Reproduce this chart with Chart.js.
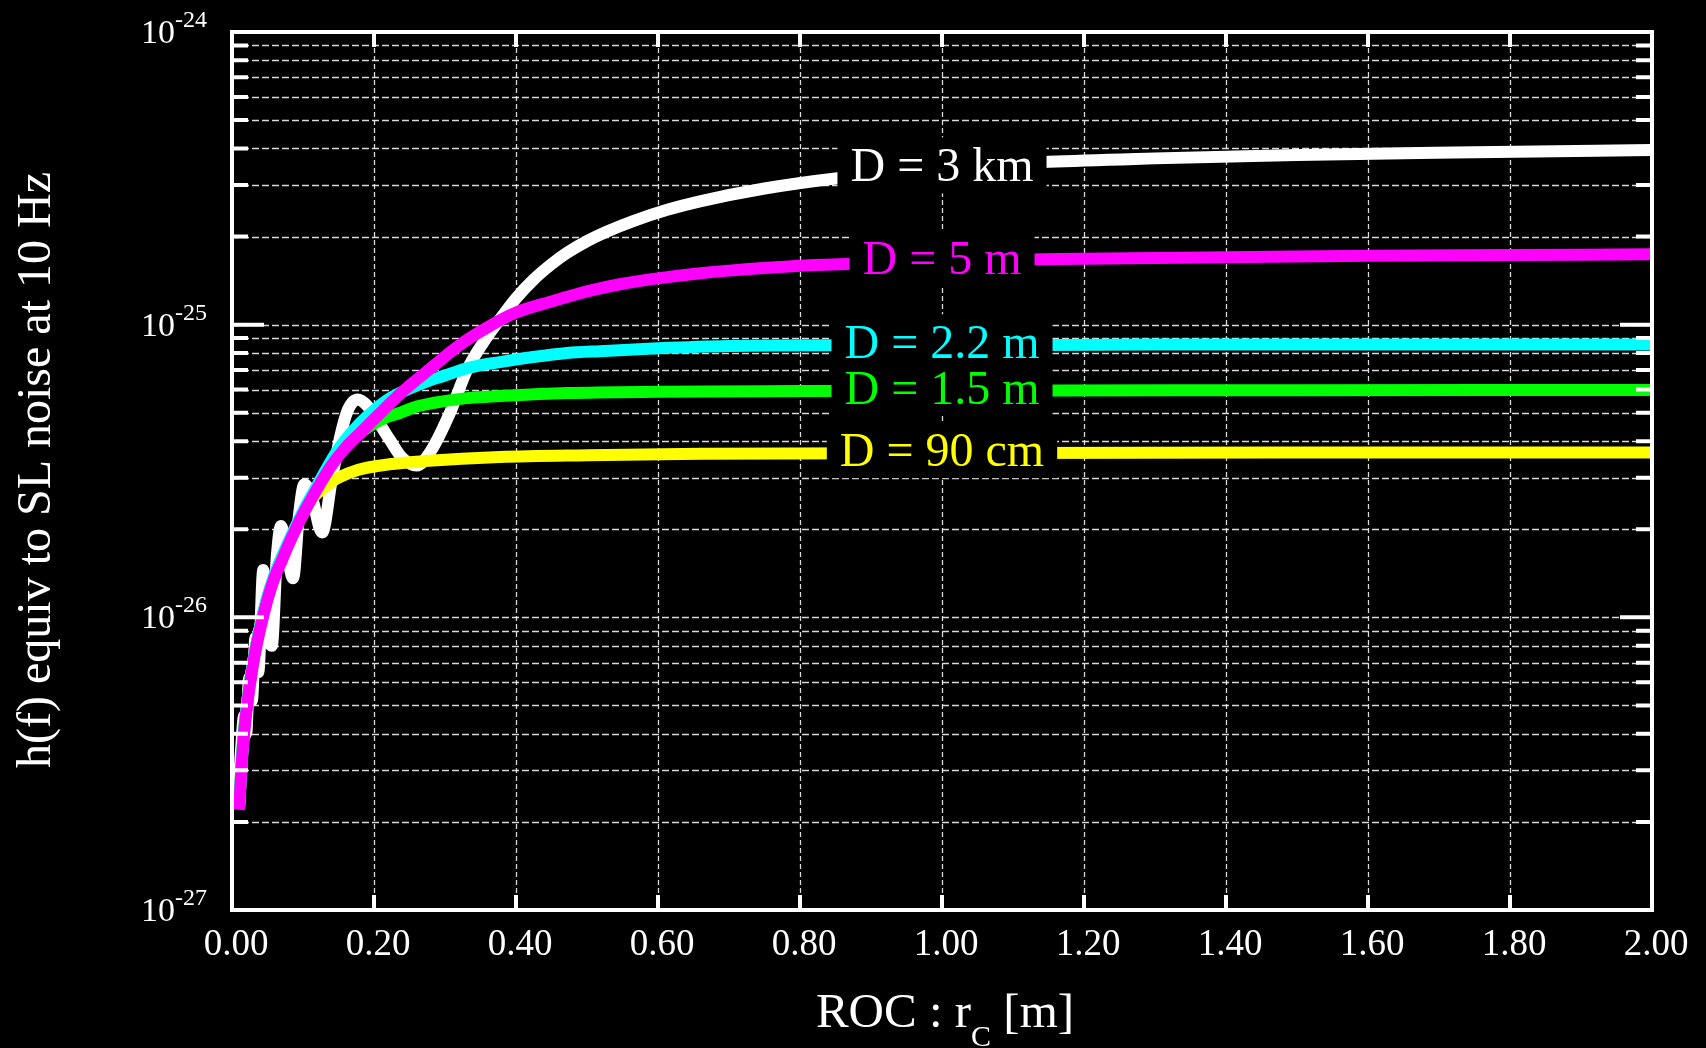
<!DOCTYPE html>
<html>
<head>
<meta charset="utf-8">
<script src="https://cdn.jsdelivr.net/npm/chart.js@4.4.1/dist/chart.umd.min.js"></script>
<style>
  html, body { margin: 0; padding: 0; background: #000; }
  #wrap { width: 1706px; height: 1048px; }
</style>
</head>
<body>
<div id="wrap"><canvas id="roc-canvas"></canvas></div>
<script>
/* h(f) equiv to SL noise at 10 Hz vs ROC r_C, one curve per D */

// D = 3 km (white, wiggly)
const r3km = [0.008, 0.013, 0.017, 0.020, 0.024, 0.028, 0.033, 0.037, 0.044, 0.050, 0.056, 0.063, 0.069, 0.077,
  0.086, 0.094, 0.102, 0.112, 0.127, 0.140, 0.152, 0.163, 0.177, 0.190, 0.205, 0.222, 0.240, 0.260, 0.280,
  0.307, 0.331, 0.354, 0.377, 0.400, 0.424, 0.450, 0.472, 0.500, 0.530, 0.565, 0.613, 0.659, 0.750, 0.850,
  1.000, 1.150, 1.300, 1.500, 1.750, 2.000];
const h3km = [2.3e-27, 3.6e-27, 4.6e-27, 4.0e-27, 6.2e-27, 5.2e-27, 8.5e-27, 6.5e-27, 1.45e-26, 9.0e-27, 8.0e-27, 1.6e-26, 2.05e-26, 1.7e-26,
  1.36e-26, 2.2e-26, 2.85e-26, 2.6e-26, 1.95e-26, 2.9e-26, 4.1e-26, 5.1e-26, 5.55e-26, 5.3e-26, 4.7e-26, 4.05e-26, 3.5e-26, 3.3e-26, 3.7e-26,
  5.0e-26, 7.0e-26, 8.7e-26, 1.04e-25, 1.23e-25, 1.42e-25, 1.61e-25, 1.76e-25, 1.93e-25, 2.09e-25, 2.26e-25, 2.47e-25, 2.64e-25, 2.92e-25, 3.16e-25,
  3.42e-25, 3.6e-25, 3.7e-25, 3.8e-25, 3.88e-25, 3.95e-25];

// D = 5 m (magenta)
const r5m = [0.010, 0.015, 0.020, 0.030, 0.040, 0.050, 0.060, 0.070, 0.080, 0.100, 0.120, 0.140, 0.160, 0.180, 0.200,
  0.240, 0.280, 0.320, 0.360, 0.400, 0.450, 0.500, 0.550, 0.600, 0.650, 0.700, 0.800, 0.900, 1.000, 1.200, 1.400,
  1.600, 1.800, 2.000];
const h5m = [2.2e-27, 3.5e-27, 4.7e-27, 7.0e-27, 9.2e-27, 1.15e-26, 1.37e-26, 1.56e-26, 1.78e-26, 2.25e-26, 2.75e-26, 3.3e-26, 3.8e-26, 4.25e-26, 4.75e-26,
  5.9e-26, 7.1e-26, 8.5e-26, 9.8e-26, 1.1e-25, 1.2e-25, 1.3e-25, 1.38e-25, 1.44e-25, 1.49e-25, 1.53e-25, 1.59e-25, 1.62e-25, 1.65e-25, 1.68e-25, 1.70e-25,
  1.72e-25, 1.73e-25, 1.74e-25];

// D = 2.2 m (cyan)
const r2p2m = [0.010, 0.015, 0.020, 0.030, 0.040, 0.050, 0.060, 0.070, 0.080, 0.100, 0.120, 0.145, 0.160, 0.180, 0.200,
  0.225, 0.250, 0.275, 0.300, 0.331, 0.377, 0.424, 0.472, 0.518, 0.600, 0.700, 0.850, 1.000, 1.300, 1.600, 2.000];
const h2p2m = [2.25e-27, 3.6e-27, 4.8e-27, 7.1e-27, 9.4e-27, 1.18e-26, 1.4e-26, 1.6e-26, 1.82e-26, 2.3e-26, 2.82e-26, 3.6e-26, 4.05e-26, 4.6e-26, 5.1e-26,
  5.65e-26, 6.05e-26, 6.4e-26, 6.7e-26, 7.1e-26, 7.45e-26, 7.75e-26, 8.0e-26, 8.12e-26, 8.3e-26, 8.45e-26, 8.5e-26, 8.5e-26, 8.55e-26, 8.55e-26, 8.55e-26];

// D = 1.5 m (green)
const r1p5m = [0.010, 0.015, 0.020, 0.030, 0.040, 0.050, 0.060, 0.070, 0.080, 0.100, 0.120, 0.140, 0.160, 0.180, 0.192,
  0.215, 0.237, 0.260, 0.283, 0.331, 0.377, 0.472, 0.600, 0.800, 1.000, 1.500, 2.000];
const h1p5m = [2.25e-27, 3.6e-27, 4.8e-27, 7.1e-27, 9.4e-27, 1.17e-26, 1.39e-26, 1.6e-26, 1.8e-26, 2.28e-26, 2.8e-26, 3.35e-26, 3.85e-26, 4.25e-26, 4.47e-26,
  4.8e-26, 5.0e-26, 5.25e-26, 5.4e-26, 5.61e-26, 5.7e-26, 5.84e-26, 5.9e-26, 5.93e-26, 5.95e-26, 5.97e-26, 5.98e-26];

// D = 90 cm (yellow)
const r90cm = [0.010, 0.015, 0.020, 0.030, 0.040, 0.050, 0.060, 0.070, 0.080, 0.090, 0.100, 0.110, 0.120, 0.131, 0.149,
  0.177, 0.225, 0.272, 0.377, 0.500, 0.660, 1.000, 1.500, 2.000];
const h90cm = [2.25e-27, 3.6e-27, 4.8e-27, 7.1e-27, 9.4e-27, 1.17e-26, 1.39e-26, 1.6e-26, 1.8e-26, 2.02e-26, 2.25e-26, 2.5e-26, 2.65e-26, 2.79e-26, 2.99e-26,
  3.19e-26, 3.34e-26, 3.42e-26, 3.53e-26, 3.58e-26, 3.62e-26, 3.64e-26, 3.66e-26, 3.66e-26];

const xTicks = [0.00, 0.20, 0.40, 0.60, 0.80, 1.00, 1.20, 1.40, 1.60, 1.80, 2.00];
const yDecades = [-27, -26, -25, -24];
const yMinor = [2, 3, 4, 5, 6, 7, 8, 9];
const labelAtR = 1.0;

const FONT = '"Liberation Serif", "Times New Roman", serif';

function pts(rs, hs){
  return rs.map((r, i) => ({x: r, y: hs[i]}));
}

// dataset 0 is painted last (on top)
const curves = [
  {label: 'D = 5 m',   color: '#ff00ff', r: r5m,   h: h5m},
  {label: 'D = 2.2 m', color: '#00ffff', r: r2p2m, h: h2p2m},
  {label: 'D = 1.5 m', color: '#00ff00', r: r1p5m, h: h1p5m},
  {label: 'D = 90 cm', color: '#ffff00', r: r90cm, h: h90cm},
  {label: 'D = 3 km',  color: '#ffffff', r: r3km,  h: h3km}
];

const frame = {
  id: 'frame',
  beforeDatasetsDraw(chart){
    const {ctx, chartArea: a, scales: {x, y}} = chart;
    ctx.save();
    ctx.strokeStyle = 'rgba(230,230,230,0.95)';
    ctx.lineWidth = 1.3;
    // horizontal grid
    ctx.setLineDash([7, 3]);
    yDecades.slice(0, -1).forEach(d => {
      [1].concat(yMinor).forEach(m => {
        const py = Math.round(y.getPixelForValue(m * Math.pow(10, d))) + 0.5;
        ctx.beginPath(); ctx.moveTo(a.left, py); ctx.lineTo(a.right, py); ctx.stroke();
      });
    });
    // vertical grid
    ctx.setLineDash([5, 3]);
    xTicks.slice(1, -1).forEach(v => {
      const px = Math.round(x.getPixelForValue(v)) + 0.5;
      ctx.beginPath(); ctx.moveTo(px, a.top); ctx.lineTo(px, a.bottom); ctx.stroke();
    });
    ctx.restore();
  },
  afterDatasetsDraw(chart){
    const {ctx, scales: {x, y}} = chart;
    ctx.save();
    ctx.font = '48px ' + FONT;
    ctx.textAlign = 'center';
    ctx.textBaseline = 'alphabetic';
    curves.forEach(c => {
      const i = c.r.indexOf(labelAtR);
      const px = x.getPixelForValue(labelAtR);
      const py = y.getPixelForValue(c.h[i]) - 3;
      const w = ctx.measureText(c.label).width + 26;
      const hgt = 56;
      ctx.fillStyle = '#000';
      ctx.fillRect(px - w / 2, py - hgt / 2, w, hgt);
      ctx.fillStyle = c.color;
      ctx.fillText(c.label, px, py + 16);
    });
    ctx.restore();
  },
  afterDraw(chart){
    const {ctx, chartArea: a, scales: {x, y}} = chart;
    ctx.save();
    ctx.strokeStyle = '#fff';
    ctx.fillStyle = '#fff';
    ctx.lineWidth = 4;
    ctx.setLineDash([]);
    ctx.strokeRect(a.left, a.top, a.right - a.left, a.bottom - a.top);

    // y ticks, inward on both sides
    yDecades.forEach(d => {
      const major = y.getPixelForValue(Math.pow(10, d));
      if (d > -27 && d < -24) {
        ctx.beginPath();
        ctx.moveTo(a.left, major); ctx.lineTo(a.left + 32, major);
        ctx.moveTo(a.right, major); ctx.lineTo(a.right - 32, major);
        ctx.stroke();
      }
      if (d === -24) return;
      yMinor.forEach(m => {
        const py = y.getPixelForValue(m * Math.pow(10, d));
        ctx.beginPath();
        ctx.moveTo(a.left, py); ctx.lineTo(a.left + 16, py);
        ctx.moveTo(a.right, py); ctx.lineTo(a.right - 16, py);
        ctx.stroke();
      });
    });
    // x ticks, inward top and bottom
    xTicks.slice(1, -1).forEach(v => {
      const px = x.getPixelForValue(v);
      ctx.beginPath();
      ctx.moveTo(px, a.bottom); ctx.lineTo(px, a.bottom - 15);
      ctx.moveTo(px, a.top); ctx.lineTo(px, a.top + 15);
      ctx.stroke();
    });

    // x tick labels
    ctx.font = '37px ' + FONT;
    ctx.textAlign = 'center';
    ctx.textBaseline = 'alphabetic';
    xTicks.forEach(v => {
      ctx.fillText(v.toFixed(2), x.getPixelForValue(v) + 4, a.bottom + 45);
    });

    // y tick labels 10^n
    yDecades.forEach(d => {
      const py = y.getPixelForValue(Math.pow(10, d));
      ctx.font = '34px ' + FONT;
      ctx.textAlign = 'right';
      ctx.fillText('10', a.left - 57, py + 11);
      ctx.font = '24px ' + FONT;
      ctx.textAlign = 'left';
      ctx.fillText('-' + Math.abs(d), a.left - 57, py - 5);
    });

    // x title: ROC : r_C [m]
    const mainF = '49px ' + FONT, subF = '30px ' + FONT;
    ctx.font = mainF; const w1 = ctx.measureText('ROC : r').width;
    const w3 = ctx.measureText(' [m]').width;
    ctx.font = subF; const w2 = ctx.measureText('C').width;
    let sx = (a.left + a.right) / 2 + 3 - (w1 + w2 + w3) / 2;
    const by = a.bottom + 117;
    ctx.textAlign = 'left';
    ctx.font = mainF; ctx.fillText('ROC : r', sx, by); sx += w1;
    ctx.font = subF; ctx.fillText('C', sx, by + 19); sx += w2;
    ctx.font = mainF; ctx.fillText(' [m]', sx, by);

    // y title
    ctx.translate(50, 470);
    ctx.rotate(-Math.PI / 2);
    ctx.textAlign = 'center';
    ctx.font = '48px ' + FONT;
    ctx.fillText('h(f) equiv to SL noise at 10 Hz', 0, 0);
    ctx.restore();
  }
};

new Chart(document.getElementById('roc-canvas'), {
  type: 'line',
  data: {
    datasets: curves.map(c => ({
      label: c.label,
      data: pts(c.r, c.h),
      borderColor: c.color,
      backgroundColor: c.color,
      borderWidth: 12,
      pointRadius: 0,
      fill: false,
      cubicInterpolationMode: 'monotone',
      borderJoinStyle: 'round'
    }))
  },
  plugins: [frame],
  options: {
    responsive: true,
    maintainAspectRatio: false,
    animation: false,
    devicePixelRatio: 1,
    events: [],
    layout: { padding: { left: 232, right: 54, top: 32, bottom: 138 } },
    plugins: { legend: false, tooltip: { enabled: false } },
    scales: {
      x: { type: 'linear', min: 0, max: 2, display: false },
      y: { type: 'logarithmic', min: 1e-27, max: 1e-24, display: false }
    }
  }
});
</script>
</body>
</html>
